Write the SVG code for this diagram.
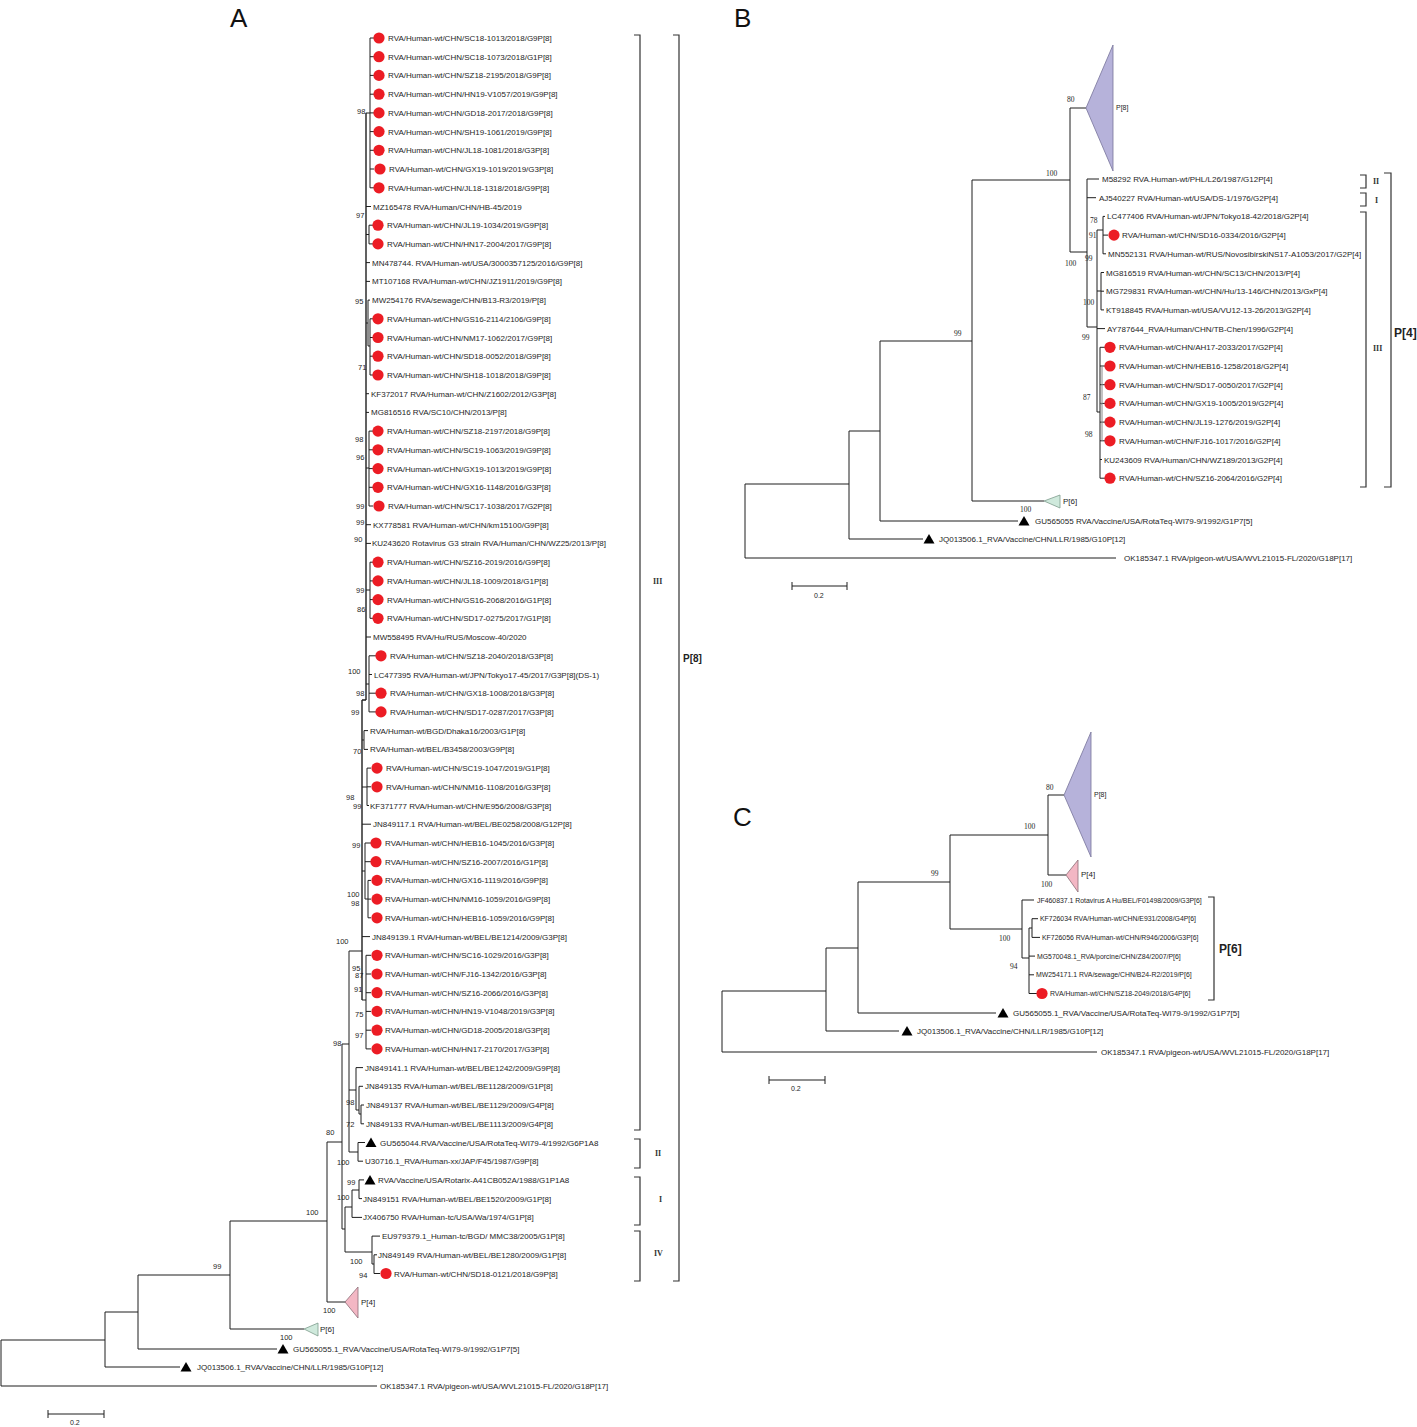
<svg xmlns="http://www.w3.org/2000/svg" xmlns:xlink="http://www.w3.org/1999/xlink" width="1417" height="1427" viewBox="0 0 1417 1427">
<style>
.lf{font-family:"Liberation Sans",Arial,sans-serif;font-size:8px;fill:#1e1e1e}
.lfs{font-size:6.9px}
.bs{font-family:"Liberation Sans",Arial,sans-serif;font-size:7.5px;fill:#1e1e1e}
.bt{font-family:"Liberation Serif","Times New Roman",serif;font-size:7.5px;fill:#1e1e1e}
.tr{fill:none;stroke:#1e1e1e;stroke-width:1}
.br{fill:none;stroke:#333;stroke-width:1.2}
.cl{font-family:"Liberation Serif","Times New Roman",serif;font-size:8px;font-weight:bold;fill:#333}
.clb{font-family:"Liberation Sans",Arial,sans-serif;font-weight:bold;fill:#222}
.pl{font-family:"Liberation Sans",Arial,sans-serif;font-size:26px;fill:#111}
.sc{font-family:"Liberation Sans",Arial,sans-serif;font-size:7px;fill:#222}
.p8{fill:#b6b2da;stroke:#77739a;stroke-width:0.8}
.p4{fill:#f3b7c4;stroke:#8a6d76;stroke-width:0.8}
.p6{fill:#cfe9dc;stroke:#7d9c8d;stroke-width:0.8}
</style>
<defs>
<circle id="rd" r="5.6" fill="#ec1c24"/>
<path id="vt" d="M-5.5,4.5L5.5,4.5L0,-5Z" fill="#000"/>
</defs>

<text class="pl" x="230" y="27">A</text>
<text class="pl" x="734" y="27">B</text>
<text class="pl" x="733" y="826">C</text>

<!-- Panel A connectors -->
<g id="connectors-a" class="tr">
<path d="M370,38V187.8M366,113H370M370,38H374M370,56.7H374M370,75.4H374M370,94.2H374M370,112.9H374M370,131.6H374M370,150.3H374M370,169H374M370,187.8H374"/>
<path d="M366,113V700" stroke-width="1.4"/>
<path d="M366,206.5H371M369,225.2V243.9M366,234.5H369M369,225.2H373M369,243.9H373M366,262.6H370M366,281.4H370"/>
<path d="M368,300.1V346M366,323H368M368,300.1H370M370,318.8V375M368,346H370M370,318.8H373M370,337.5H373M370,356.2H373M370,375H373"/>
<path d="M366,393.7H369M366,412.4H369M369,431.1V506M366,468H369M369,431.1H373M369,449.8H373M369,468.6H373M369,487.3H373M369,506H373"/>
<path d="M366,524.7H371M366,543.4H371M370,562.2V618.3M366,590H370M370,562.2H373M370,580.9H373M370,599.6H373M370,618.3H373M366,637H371"/>
<path d="M369,655.8V711.9M366,684H369M369,655.8H376M369,674.5H372M369,693.2H376M369,711.9H376"/>
<path d="M362,700H366M362,700V1000" stroke-width="1.4"/>
<path d="M364,730.6V749.4M362,740H364M364,730.6H368M364,749.4H368M367,768.1V805.5M362,787H367M367,768.1H371M367,786.8H371M367,805.5H369M362,824.2H371"/>
<path d="M365,843V899M362,871H365M365,843H371M365,861.7H371M368,880.4V917.8M365,899H368M368,880.4H371M368,899.1H371M368,917.8H371M362,936.6H370"/>
<path d="M366,955.3V1048.9M362,1000H366M366,955.3H371M366,974H371M366,992.7H371M366,1011.4H371M366,1030.2H371M366,1048.9H371"/>
<path d="M349,951H362M349,951V1152M356,1067.6V1110M349,1090H356M356,1067.6H363M359,1086.3V1114M356,1110H359M359,1086.3H363M361,1105V1123.8M359,1114H361M361,1105H364M361,1123.8H364"/>
<path d="M358,1142.5V1161.2M349,1152H358M358,1142.5H365M358,1161.2H363"/>
<path d="M342,1044V1229M342,1044H349M327,1142H342M345,1207V1252M342,1229H345"/>
<path d="M352,1190V1217.4M345,1207H352M352,1217.4H362M359,1179.9V1198.6M352,1190H359M359,1179.9H364M359,1198.6H362"/>
<path d="M372,1236.1V1264M345,1252H372M372,1236.1H380M374,1254.8V1273.5M372,1264H374M374,1254.8H377M374,1273.5H380"/>
<path d="M327,1142V1302M230,1221H327M327,1302H346M230,1221V1329M138,1275H230M230,1329H304M138,1275V1349M105,1312H138M138,1349H277M105,1312V1367M1,1340H105M105,1367H180M1,1340V1386M1,1386H377"/>
</g>

<!-- Panel A leaves -->
<g id="a-leaves" class="lf">
<g id="a01" transform="translate(0,38)"><use href="#rd" x="379"/><text x="388" y="3">RVA/Human-wt/CHN/SC18-1013/2018/G9P[8]</text></g>
<g id="a02" transform="translate(0,56.7)"><use href="#rd" x="379"/><text x="388" y="3">RVA/Human-wt/CHN/SC18-1073/2018/G1P[8]</text></g>
<g id="a03" transform="translate(0,75.4)"><use href="#rd" x="379"/><text x="388" y="3">RVA/Human-wt/CHN/SZ18-2195/2018/G9P[8]</text></g>
<g id="a04" transform="translate(0,94.2)"><use href="#rd" x="379"/><text x="388" y="3">RVA/Human-wt/CHN/HN19-V1057/2019/G9P[8]</text></g>
<g id="a05" transform="translate(0,112.9)"><use href="#rd" x="379"/><text x="388" y="3">RVA/Human-wt/CHN/GD18-2017/2018/G9P[8]</text></g>
<g id="a06" transform="translate(0,131.6)"><use href="#rd" x="379"/><text x="388" y="3">RVA/Human-wt/CHN/SH19-1061/2019/G9P[8]</text></g>
<g id="a07" transform="translate(0,150.3)"><use href="#rd" x="379"/><text x="388" y="3">RVA/Human-wt/CHN/JL18-1081/2018/G3P[8]</text></g>
<g id="a08" transform="translate(0,169)"><use href="#rd" x="380"/><text x="389" y="3">RVA/Human-wt/CHN/GX19-1019/2019/G3P[8]</text></g>
<g id="a09" transform="translate(0,187.8)"><use href="#rd" x="379"/><text x="388" y="3">RVA/Human-wt/CHN/JL18-1318/2018/G9P[8]</text></g>
<g id="a10" transform="translate(0,206.5)"><text x="373" y="3">MZ165478 RVA/Human/CHN/HB-45/2019</text></g>
<g id="a11" transform="translate(0,225.2)"><use href="#rd" x="378"/><text x="387" y="3">RVA/Human-wt/CHN/JL19-1034/2019/G9P[8]</text></g>
<g id="a12" transform="translate(0,243.9)"><use href="#rd" x="378"/><text x="387" y="3">RVA/Human-wt/CHN/HN17-2004/2017/G9P[8]</text></g>
<g id="a13" transform="translate(0,262.6)"><text x="372" y="3">MN478744. RVA/Human-wt/USA/3000357125/2016/G9P[8]</text></g>
<g id="a14" transform="translate(0,281.4)"><text x="372" y="3">MT107168 RVA/Human-wt/CHN/JZ1911/2019/G9P[8]</text></g>
<g id="a15" transform="translate(0,300.1)"><text x="372" y="3">MW254176 RVA/sewage/CHN/B13-R3/2019/P[8]</text></g>
<g id="a16" transform="translate(0,318.8)"><use href="#rd" x="378"/><text x="387" y="3">RVA/Human-wt/CHN/GS16-2114/2106/G9P[8]</text></g>
<g id="a17" transform="translate(0,337.5)"><use href="#rd" x="378"/><text x="387" y="3">RVA/Human-wt/CHN/NM17-1062/2017/G9P[8]</text></g>
<g id="a18" transform="translate(0,356.2)"><use href="#rd" x="378"/><text x="387" y="3">RVA/Human-wt/CHN/SD18-0052/2018/G9P[8]</text></g>
<g id="a19" transform="translate(0,375)"><use href="#rd" x="378"/><text x="387" y="3">RVA/Human-wt/CHN/SH18-1018/2018/G9P[8]</text></g>
<g id="a20" transform="translate(0,393.7)"><text x="371" y="3">KF372017 RVA/Human-wt/CHN/Z1602/2012/G3P[8]</text></g>
<g id="a21" transform="translate(0,412.4)"><text x="371" y="3">MG816516 RVA/SC10/CHN/2013/P[8]</text></g>
<g id="a22" transform="translate(0,431.1)"><use href="#rd" x="378"/><text x="387" y="3">RVA/Human-wt/CHN/SZ18-2197/2018/G9P[8]</text></g>
<g id="a23" transform="translate(0,449.8)"><use href="#rd" x="378"/><text x="387" y="3">RVA/Human-wt/CHN/SC19-1063/2019/G9P[8]</text></g>
<g id="a24" transform="translate(0,468.6)"><use href="#rd" x="378"/><text x="387" y="3">RVA/Human-wt/CHN/GX19-1013/2019/G9P[8]</text></g>
<g id="a25" transform="translate(0,487.3)"><use href="#rd" x="378"/><text x="387" y="3">RVA/Human-wt/CHN/GX16-1148/2016/G3P[8]</text></g>
<g id="a26" transform="translate(0,506)"><use href="#rd" x="379"/><text x="388" y="3">RVA/Human-wt/CHN/SC17-1038/2017/G2P[8]</text></g>
<g id="a27" transform="translate(0,524.7)"><text x="373" y="3">KX778581 RVA/Human-wt/CHN/km15100/G9P[8]</text></g>
<g id="a28" transform="translate(0,543.4)"><text x="372" y="3">KU243620 Rotavirus G3 strain RVA/Human/CHN/WZ25/2013/P[8]</text></g>
<g id="a29" transform="translate(0,562.2)"><use href="#rd" x="378"/><text x="387" y="3">RVA/Human-wt/CHN/SZ16-2019/2016/G9P[8]</text></g>
<g id="a30" transform="translate(0,580.9)"><use href="#rd" x="378"/><text x="387" y="3">RVA/Human-wt/CHN/JL18-1009/2018/G1P[8]</text></g>
<g id="a31" transform="translate(0,599.6)"><use href="#rd" x="378"/><text x="387" y="3">RVA/Human-wt/CHN/GS16-2068/2016/G1P[8]</text></g>
<g id="a32" transform="translate(0,618.3)"><use href="#rd" x="378"/><text x="387" y="3">RVA/Human-wt/CHN/SD17-0275/2017/G1P[8]</text></g>
<g id="a33" transform="translate(0,637)"><text x="373" y="3">MW558495 RVA/Hu/RUS/Moscow-40/2020</text></g>
<g id="a34" transform="translate(0,655.8)"><use href="#rd" x="381"/><text x="390" y="3">RVA/Human-wt/CHN/SZ18-2040/2018/G3P[8]</text></g>
<g id="a35" transform="translate(0,674.5)"><text x="374" y="3">LC477395 RVA/Human-wt/JPN/Tokyo17-45/2017/G3P[8](DS-1)</text></g>
<g id="a36" transform="translate(0,693.2)"><use href="#rd" x="381"/><text x="390" y="3">RVA/Human-wt/CHN/GX18-1008/2018/G3P[8]</text></g>
<g id="a37" transform="translate(0,711.9)"><use href="#rd" x="381"/><text x="390" y="3">RVA/Human-wt/CHN/SD17-0287/2017/G3P[8]</text></g>
<g id="a38" transform="translate(0,730.6)"><text x="370" y="3">RVA/Human-wt/BGD/Dhaka16/2003/G1P[8]</text></g>
<g id="a39" transform="translate(0,749.4)"><text x="370" y="3">RVA/Human-wt/BEL/B3458/2003/G9P[8]</text></g>
<g id="a40" transform="translate(0,768.1)"><use href="#rd" x="377"/><text x="386" y="3">RVA/Human-wt/CHN/SC19-1047/2019/G1P[8]</text></g>
<g id="a41" transform="translate(0,786.8)"><use href="#rd" x="377"/><text x="386" y="3">RVA/Human-wt/CHN/NM16-1108/2016/G3P[8]</text></g>
<g id="a42" transform="translate(0,805.5)"><text x="370" y="3">KF371777 RVA/Human-wt/CHN/E956/2008/G3P[8]</text></g>
<g id="a43" transform="translate(0,824.2)"><text x="373" y="3">JN849117.1 RVA/Human-wt/BEL/BE0258/2008/G12P[8]</text></g>
<g id="a44" transform="translate(0,843)"><use href="#rd" x="376"/><text x="385" y="3">RVA/Human-wt/CHN/HEB16-1045/2016/G3P[8]</text></g>
<g id="a45" transform="translate(0,861.7)"><use href="#rd" x="376"/><text x="385" y="3">RVA/Human-wt/CHN/SZ16-2007/2016/G1P[8]</text></g>
<g id="a46" transform="translate(0,880.4)"><use href="#rd" x="377"/><text x="385" y="3">RVA/Human-wt/CHN/GX16-1119/2016/G9P[8]</text></g>
<g id="a47" transform="translate(0,899.1)"><use href="#rd" x="377"/><text x="385" y="3">RVA/Human-wt/CHN/NM16-1059/2016/G9P[8]</text></g>
<g id="a48" transform="translate(0,917.8)"><use href="#rd" x="377"/><text x="385" y="3">RVA/Human-wt/CHN/HEB16-1059/2016/G9P[8]</text></g>
<g id="a49" transform="translate(0,936.6)"><text x="372" y="3">JN849139.1 RVA/Human-wt/BEL/BE1214/2009/G3P[8]</text></g>
<g id="a50" transform="translate(0,955.3)"><use href="#rd" x="377"/><text x="385" y="3">RVA/Human-wt/CHN/SC16-1029/2016/G3P[8]</text></g>
<g id="a51" transform="translate(0,974)"><use href="#rd" x="377"/><text x="385" y="3">RVA/Human-wt/CHN/FJ16-1342/2016/G3P[8]</text></g>
<g id="a52" transform="translate(0,992.7)"><use href="#rd" x="377"/><text x="385" y="3">RVA/Human-wt/CHN/SZ16-2066/2016/G3P[8]</text></g>
<g id="a53" transform="translate(0,1011.4)"><use href="#rd" x="377"/><text x="385" y="3">RVA/Human-wt/CHN/HN19-V1048/2019/G3P[8]</text></g>
<g id="a54" transform="translate(0,1030.2)"><use href="#rd" x="377"/><text x="385" y="3">RVA/Human-wt/CHN/GD18-2005/2018/G3P[8]</text></g>
<g id="a55" transform="translate(0,1048.9)"><use href="#rd" x="377"/><text x="385" y="3">RVA/Human-wt/CHN/HN17-2170/2017/G3P[8]</text></g>
<g id="a56" transform="translate(0,1067.6)"><text x="365" y="3">JN849141.1 RVA/Human-wt/BEL/BE1242/2009/G9P[8]</text></g>
<g id="a57" transform="translate(0,1086.3)"><text x="365" y="3">JN849135 RVA/Human-wt/BEL/BE1128/2009/G1P[8]</text></g>
<g id="a58" transform="translate(0,1105)"><text x="366" y="3">JN849137 RVA/Human-wt/BEL/BE1129/2009/G4P[8]</text></g>
<g id="a59" transform="translate(0,1123.8)"><text x="366" y="3">JN849133 RVA/Human-wt/BEL/BE1113/2009/G4P[8]</text></g>
<g id="a60" transform="translate(0,1142.5)"><use href="#vt" x="371"/><text x="380" y="3">GU565044.RVA/Vaccine/USA/RotaTeq-WI79-4/1992/G6P1A8</text></g>
<g id="a61" transform="translate(0,1161.2)"><text x="365" y="3">U30716.1_RVA/Human-xx/JAP/F45/1987/G9P[8]</text></g>
<g id="a62" transform="translate(0,1179.9)"><use href="#vt" x="370"/><text x="378" y="3">RVA/Vaccine/USA/Rotarix-A41CB052A/1988/G1P1A8</text></g>
<g id="a63" transform="translate(0,1198.6)"><text x="363" y="3">JN849151 RVA/Human-wt/BEL/BE1520/2009/G1P[8]</text></g>
<g id="a64" transform="translate(0,1217.4)"><text x="363" y="3">JX406750 RVA/Human-tc/USA/Wa/1974/G1P[8]</text></g>
<g id="a65" transform="translate(0,1236.1)"><text x="382" y="3">EU979379.1_Human-tc/BGD/ MMC38/2005/G1P[8]</text></g>
<g id="a66" transform="translate(0,1254.8)"><text x="378" y="3">JN849149 RVA/Human-wt/BEL/BE1280/2009/G1P[8]</text></g>
<g id="a67" transform="translate(0,1273.5)"><use href="#rd" x="386"/><text x="394" y="3">RVA/Human-wt/CHN/SD18-0121/2018/G9P[8]</text></g>
<g id="a-p4"><polygon class="p4" points="345,1302 358,1287 358,1318"/><text x="361" y="1305">P[4]</text></g>
<g id="a-p6"><polygon class="p6" points="304,1329 318,1323 318,1336"/><text x="320" y="1332">P[6]</text></g>
<g id="a-gu"><use href="#vt" x="283" y="1349"/><text x="293" y="1352">GU565055.1_RVA/Vaccine/USA/RotaTeq-WI79-9/1992/G1P7[5]</text></g>
<g id="a-jq"><use href="#vt" x="186" y="1367"/><text x="197" y="1370">JQ013506.1_RVA/Vaccine/CHN/LLR/1985/G10P[12]</text></g>
<g id="a-ok"><text x="380" y="1389">OK185347.1 RVA/pigeon-wt/USA/WVL21015-FL/2020/G18P[17]</text></g>
</g>

<!-- Panel A bootstrap values -->
<g id="a-boot" class="bs">
<text x="357" y="114">98</text><text x="356" y="218">97</text><text x="355" y="304">95</text><text x="358" y="370">71</text>
<text x="355" y="442">98</text><text x="356" y="460">96</text><text x="356" y="509">99</text><text x="356" y="525">99</text>
<text x="354" y="542">90</text><text x="356" y="593">99</text><text x="357" y="612">86</text><text x="348" y="674">100</text>
<text x="356" y="696">98</text><text x="351" y="715">99</text><text x="353" y="754">70</text><text x="346" y="800">98</text>
<text x="353" y="809">99</text><text x="352" y="848">99</text><text x="347" y="897">100</text><text x="351" y="906">98</text>
<text x="336" y="944">100</text><text x="352" y="971">95</text><text x="355" y="978">87</text><text x="354" y="992">91</text>
<text x="355" y="1017">75</text><text x="355" y="1038">97</text><text x="333" y="1046">98</text><text x="346" y="1105">98</text>
<text x="346" y="1127">72</text><text x="326" y="1135">80</text><text x="337" y="1165">100</text><text x="347" y="1185">99</text>
<text x="337" y="1200">100</text><text x="306" y="1215">100</text><text x="350" y="1264">100</text><text x="359" y="1278">94</text>
<text x="213" y="1269">99</text><text x="323" y="1313">100</text><text x="280" y="1340">100</text>
</g>

<!-- Panel A brackets -->
<g id="a-brackets">
<path class="br" d="M634,35H640V1130H634M634,1139H640V1168H634M634,1177H640V1225H634M634,1231H640V1281H634M673,35H679V1281H673"/>
<text class="cl" x="653" y="584">III</text>
<text class="cl" x="655" y="1156">II</text>
<text class="cl" x="659" y="1202">I</text>
<text class="cl" x="654" y="1256">IV</text>
<text class="clb" x="683" y="662" font-size="10">P[8]</text>
</g>
<g id="a-scale"><path class="tr" d="M48,1414H104M48,1410V1418M104,1410V1418"/><text class="sc" x="70" y="1425">0.2</text></g>

<!-- Panel B -->
<g id="connectors-b" class="tr">
<path d="M745,484V558M745,484H849M745,558H1116M849,431V539M849,431H880M849,539H923M880,341V521M880,341H972M880,521H1018M972,180V501M972,180H1070M972,501H1044M1070,108V252M1070,108H1086M1070,252H1087"/>
<path d="M1087,179V327M1087,179H1099M1087,197.7H1096M1087,327H1097M1097,230V412M1097,230H1103M1103,216.4V253.8M1103,216.4H1105M1103,235.1H1108M1103,253.8H1106M1097,291H1101M1101,272.5V309.9M1101,272.5H1104M1101,291.2H1104M1101,309.9H1104M1097,328.6H1105M1097,412H1100M1100,347.3V478.2M1100,347.3H1105M1100,366H1105M1100,384.7H1105M1100,403.4H1105M1100,422.1H1105M1100,440.8H1105M1100,459.5H1102M1100,478.2H1105"/>
<path d="M1102,366V441M1100,404H1102" stroke="#888"/>
</g>
<g id="b-leaves" class="lf">
<g id="b-p8"><polygon class="p8" points="1086,108 1113,45 1113,171"/><text x="1116" y="110" font-size="7">P[8]</text></g>
<g id="b01" transform="translate(0,179)"><text x="1102" y="3">M58292 RVA.Human-wt/PHL/L26/1987/G12P[4]</text></g>
<g id="b02" transform="translate(0,197.7)"><text x="1099" y="3">AJ540227 RVA/Human-wt/USA/DS-1/1976/G2P[4]</text></g>
<g id="b03" transform="translate(0,216.4)"><text x="1107" y="3">LC477406 RVA/Human-wt/JPN/Tokyo18-42/2018/G2P[4]</text></g>
<g id="b04" transform="translate(0,235.1)"><use href="#rd" x="1114"/><text x="1122" y="3">RVA/Human-wt/CHN/SD16-0334/2016/G2P[4]</text></g>
<g id="b05" transform="translate(0,253.8)"><text x="1108" y="3">MN552131 RVA/Human-wt/RUS/NovosibirskiNS17-A1053/2017/G2P[4]</text></g>
<g id="b06" transform="translate(0,272.5)"><text x="1106" y="3">MG816519 RVA/Human-wt/CHN/SC13/CHN/2013/P[4]</text></g>
<g id="b07" transform="translate(0,291.2)"><text x="1106" y="3">MG729831 RVA/Human-wt/CHN/Hu/13-146/CHN/2013/GxP[4]</text></g>
<g id="b08" transform="translate(0,309.9)"><text x="1106" y="3">KT918845 RVA/Human-wt/USA/VU12-13-26/2013/G2P[4]</text></g>
<g id="b09" transform="translate(0,328.6)"><text x="1107" y="3">AY787644_RVA/Human/CHN/TB-Chen/1996/G2P[4]</text></g>
<g id="b10" transform="translate(0,347.3)"><use href="#rd" x="1110"/><text x="1119" y="3">RVA/Human-wt/CHN/AH17-2033/2017/G2P[4]</text></g>
<g id="b11" transform="translate(0,366)"><use href="#rd" x="1110"/><text x="1119" y="3">RVA/Human-wt/CHN/HEB16-1258/2018/G2P[4]</text></g>
<g id="b12" transform="translate(0,384.7)"><use href="#rd" x="1110"/><text x="1119" y="3">RVA/Human-wt/CHN/SD17-0050/2017/G2P[4]</text></g>
<g id="b13" transform="translate(0,403.4)"><use href="#rd" x="1110"/><text x="1119" y="3">RVA/Human-wt/CHN/GX19-1005/2019/G2P[4]</text></g>
<g id="b14" transform="translate(0,422.1)"><use href="#rd" x="1110"/><text x="1119" y="3">RVA/Human-wt/CHN/JL19-1276/2019/G2P[4]</text></g>
<g id="b15" transform="translate(0,440.8)"><use href="#rd" x="1110"/><text x="1119" y="3">RVA/Human-wt/CHN/FJ16-1017/2016/G2P[4]</text></g>
<g id="b16" transform="translate(0,459.5)"><text x="1104" y="3">KU243609 RVA/Human/CHN/WZ189/2013/G2P[4]</text></g>
<g id="b17" transform="translate(0,478.2)"><use href="#rd" x="1110"/><text x="1119" y="3">RVA/Human-wt/CHN/SZ16-2064/2016/G2P[4]</text></g>
<g id="b-p6"><polygon class="p6" points="1044,501 1060,495 1060,508"/><text x="1063" y="504">P[6]</text></g>
<g id="b-gu"><use href="#vt" x="1024" y="521"/><text x="1035" y="524">GU565055 RVA/Vaccine/USA/RotaTeq-WI79-9/1992/G1P7[5]</text></g>
<g id="b-jq"><use href="#vt" x="929" y="539"/><text x="939" y="542">JQ013506.1_RVA/Vaccine/CHN/LLR/1985/G10P[12]</text></g>
<g id="b-ok"><text x="1124" y="561">OK185347.1 RVA/pigeon-wt/USA/WVL21015-FL/2020/G18P[17]</text></g>
</g>
<g id="b-boot" class="bt">
<text x="1067" y="102">80</text><text x="1046" y="176">100</text><text x="1065" y="266">100</text><text x="1090" y="223">78</text>
<text x="1089" y="238">91</text><text x="1085" y="261">99</text><text x="1083" y="305">100</text><text x="1082" y="340">99</text>
<text x="1083" y="400">87</text><text x="1085" y="437">98</text><text x="954" y="336">99</text><text x="1020" y="512">100</text>
</g>
<g id="b-brackets">
<path class="br" d="M1360,175H1366V188H1360M1360,193H1366V206H1360M1360,212H1366V487H1360M1384,173H1391V487H1384"/>
<text class="cl" x="1373" y="184">II</text>
<text class="cl" x="1375" y="203">I</text>
<text class="cl" x="1373" y="351">III</text>
<text class="clb" x="1394" y="337" font-size="12">P[4]</text>
</g>
<g id="b-scale"><path class="tr" d="M792,586H847M792,582V590M847,582V590"/><text class="sc" x="814" y="598">0.2</text></g>

<!-- Panel C -->
<g id="connectors-c" class="tr">
<path d="M722,991V1052M722,991H826M722,1052H1097M826,948V1031M826,948H858M826,1031H899M858,882V1013M858,882H950M858,1013H996M950,835V929M950,835H1048M950,929H1022M1048,795V875M1048,795H1064M1048,875H1066"/>
<path d="M1022,900V958M1022,900H1034M1022,958H1029M1029,928V993.5M1029,928H1032M1032,918.7V937.4M1032,918.7H1038M1032,937.4H1040M1029,956.1H1035M1029,974.8H1034M1029,993.5H1037"/>
</g>
<g id="c-leaves" class="lf">
<g id="c-p8"><polygon class="p8" points="1064,795 1091,732 1091,857"/><text x="1094" y="797" font-size="7">P[8]</text></g>
<g id="c-p4"><polygon class="p4" points="1066,875 1078,860 1078,892"/><text x="1081" y="877">P[4]</text></g>
<g id="c01" class="lfs" transform="translate(0,900)"><text x="1037" y="2.6">JF460837.1 Rotavirus A Hu/BEL/F01498/2009/G3P[6]</text></g>
<g id="c02" class="lfs" transform="translate(0,918.7)"><text x="1040" y="2.6">KF726034 RVA/Human-wt/CHN/E931/2008/G4P[6]</text></g>
<g id="c03" class="lfs" transform="translate(0,937.4)"><text x="1042" y="2.6">KF726056 RVA/Human-wt/CHN/R946/2006/G3P[6]</text></g>
<g id="c04" class="lfs" transform="translate(0,956.1)"><text x="1037" y="2.6">MG570048.1_RVA/porcine/CHN/Z84/2007/P[6]</text></g>
<g id="c05" class="lfs" transform="translate(0,974.8)"><text x="1036" y="2.6">MW254171.1 RVA/sewage/CHN/B24-R2/2019/P[6]</text></g>
<g id="c06" class="lfs" transform="translate(0,993.5)"><use href="#rd" x="1042"/><text x="1050" y="2.6">RVA/Human-wt/CHN/SZ18-2049/2018/G4P[6]</text></g>
<g id="c-gu"><use href="#vt" x="1003" y="1013"/><text x="1013" y="1016">GU565055.1_RVA/Vaccine/USA/RotaTeq-WI79-9/1992/G1P7[5]</text></g>
<g id="c-jq"><use href="#vt" x="907" y="1031"/><text x="917" y="1034">JQ013506.1_RVA/Vaccine/CHN/LLR/1985/G10P[12]</text></g>
<g id="c-ok"><text x="1101" y="1055">OK185347.1 RVA/pigeon-wt/USA/WVL21015-FL/2020/G18P[17]</text></g>
</g>
<g id="c-boot" class="bt">
<text x="1046" y="790">80</text><text x="1024" y="829">100</text><text x="1041" y="887">100</text><text x="931" y="876">99</text>
<text x="999" y="941">100</text><text x="1010" y="969">94</text>
</g>
<g id="c-brackets">
<path class="br" d="M1208,897H1214V1000H1208"/>
<text class="clb" x="1219" y="953" font-size="12">P[6]</text>
</g>
<g id="c-scale"><path class="tr" d="M769,1080H825M769,1076V1084M825,1076V1084"/><text class="sc" x="791" y="1091">0.2</text></g>
</svg>
